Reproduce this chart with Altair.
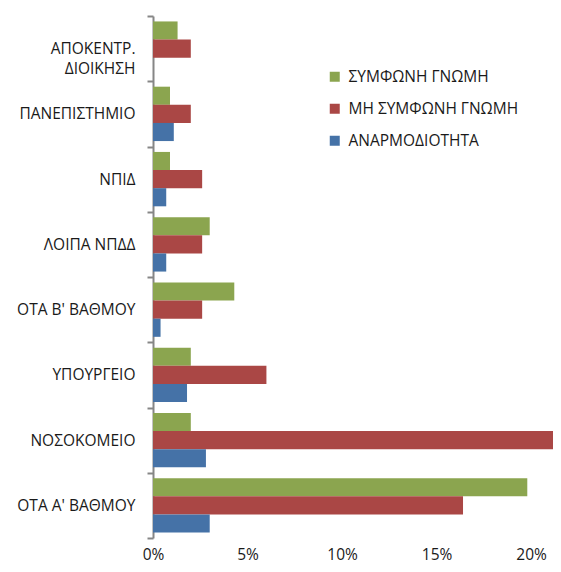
import altair as alt
import pandas as pd

categories = ["ΑΠΟΚΕΝΤΡ.\nΔΙΟΙΚΗΣΗ", "ΠΑΝΕΠΙΣΤΗΜΙΟ", "ΝΠΙΔ", "ΛΟΙΠΑ ΝΠΔΔ",
              "ΟΤΑ Β' ΒΑΘΜΟΥ", "ΥΠΟΥΡΓΕΙΟ", "ΝΟΣΟΚΟΜΕΙΟ", "ΟΤΑ Α'  ΒΑΘΜΟΥ"]
series = ["ΣΥΜΦΩΝΗ ΓΝΩΜΗ", "ΜΗ ΣΥΜΦΩΝΗ ΓΝΩΜΗ", "ΑΝΑΡΜΟΔΙΟΤΗΤΑ"]
symfoni = [0.013, 0.009, 0.009, 0.030, 0.043, 0.020, 0.020, 0.198]
mi_symfoni = [0.020, 0.020, 0.026, 0.026, 0.026, 0.060, 0.230, 0.164]
anarmodiotita = [0.0, 0.011, 0.007, 0.007, 0.004, 0.018, 0.028, 0.030]
colors = ["#8BA54F", "#AA4745", "#4572A7"]
x_ticks = [0, 0.05, 0.10, 0.15, 0.20]

rows = []
for s, vals in zip(series, [symfoni, mi_symfoni, anarmodiotita]):
    for c, v in zip(categories, vals):
        rows.append({"category": c, "series": s, "value": v})
df = pd.DataFrame(rows)

font = "Open Sans"
fs = 15.5
nbsp = "\u00a0\u00a0"
label_expr = (
    "indexof(datum.label, '\\n') >= 0 ? "
    "[split(datum.label, '\\n')[0], split(datum.label, '\\n')[1] + '" + nbsp + "'] "
    ": datum.label"
)

chart = alt.Chart(df).mark_bar(clip=True).encode(
    y=alt.Y("category:N", sort=categories,
            scale=alt.Scale(paddingInner=0, paddingOuter=0),
            axis=alt.Axis(title=None, tickBand="extent", domainColor="#868686",
                          domainWidth=2, tickColor="#868686", tickWidth=2,
                          tickSize=6, labelPadding=12, labelFontSize=fs,
                          labelFont=font, labelColor="#1a1a1a",
                          labelExpr=label_expr, labelLimit=200,
                          labelLineHeight=20)),
    yOffset=alt.YOffset("series:N", sort=series,
                        scale=alt.Scale(paddingInner=0, paddingOuter=0.3)),
    x=alt.X("value:Q", scale=alt.Scale(domain=[0, 0.2116], nice=False),
            axis=alt.Axis(title=None, format=".0%", values=x_ticks, grid=False,
                          domain=False, ticks=False, labelPadding=9,
                          labelFlush=False,
                          labelFontSize=fs, labelFont=font,
                          labelColor="#1a1a1a")),
    color=alt.Color("series:N", sort=series,
                    scale=alt.Scale(domain=series, range=colors),
                    legend=alt.Legend(title=None, orient="none", legendX=174,
                                      legendY=53, symbolType="square",
                                      symbolSize=100, symbolStrokeWidth=0,
                                      labelFont=font, labelFontSize=fs,
                                      labelColor="#1a1a1a", rowPadding=15,
                                      labelOffset=6, padding=0,
                                      labelLimit=300)),
).properties(
    width=400, height=522,
    autosize=alt.AutoSizeParams(type="none"),
    padding={"left": 145, "top": 8, "right": 0, "bottom": 26},
).configure_view(stroke=None)

chart.save("out.html", embed_options={"renderer": "svg", "actions": False})
